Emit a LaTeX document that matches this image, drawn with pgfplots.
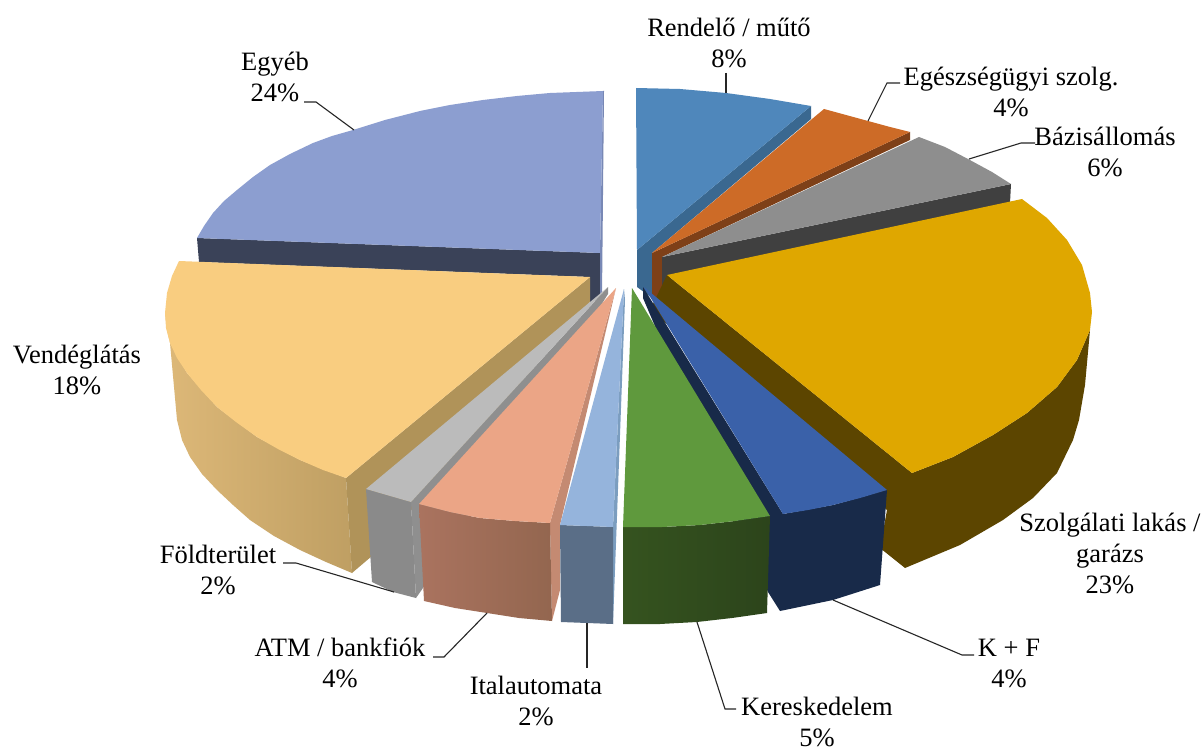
\documentclass[border=0pt]{standalone}
\usepackage{pgfplots}
\pgfplotsset{compat=1.18}
\usepackage{fontspec}
\setmainfont{Liberation Serif}
\definecolor{cBlueT}{HTML}{4F87BB}\definecolor{cBlueW}{HTML}{3A6890}
\definecolor{cOrT}{HTML}{CD6B27}\definecolor{cOrW}{HTML}{7E4018}
\definecolor{cGrT}{HTML}{8E8E8E}\definecolor{cGrW}{HTML}{404040}
\definecolor{cGoT}{HTML}{DFA700}\definecolor{cGoW}{HTML}{5C4500}
\definecolor{cDbT}{HTML}{3A61A9}\definecolor{cDbW}{HTML}{182A49}
\definecolor{cGnT}{HTML}{5F993D}\definecolor{cGnA}{HTML}{35531F}\definecolor{cGnB}{HTML}{2C441B}
\definecolor{cLbT}{HTML}{95B4DC}\definecolor{cLbW}{HTML}{5A6E87}\definecolor{cLbS}{HTML}{7B9DBF}
\definecolor{cSaT}{HTML}{EBA586}\definecolor{cSaA}{HTML}{AA735F}\definecolor{cSaB}{HTML}{93664F}\definecolor{cSaS}{HTML}{C48A72}
\definecolor{cLgT}{HTML}{BBBBBB}\definecolor{cLgW}{HTML}{8A8A8A}\definecolor{cLgS}{HTML}{8F8F8F}
\definecolor{cYeT}{HTML}{F9CD80}\definecolor{cYeA}{HTML}{DDB878}\definecolor{cYeB}{HTML}{BF9F63}\definecolor{cYeS}{HTML}{B09359}
\definecolor{cPeT}{HTML}{8C9ED0}\definecolor{cPeW}{HTML}{3A4258}\definecolor{cPeS}{HTML}{7888B5}
\tikzset{lab/.style={font=\fontsize{26.5}{31}\selectfont, align=center, inner sep=0pt}}
\pgfplotsset{lead/.style={black!85, line width=1.1pt}}
\begin{document}
\begin{tikzpicture}
\begin{axis}[
  scale only axis, width=1203pt, height=749pt,
  xmin=0, xmax=1203, ymin=0, ymax=749, y dir=reverse,
  hide axis, clip=false,
]
% page extent
\addplot[fill=white, draw=none] coordinates {(0,0)(1203,0)(1203,749)(0,749)} --cycle;
% Rendelo / muto
\addplot[fill=cBlueW, draw=none] coordinates {(637,250)(811,106)(811,119)(652,253)(652,298)(637,287)} --cycle;
\addplot[fill=cBlueT, draw=none] coordinates {(636,88)(680,89)(726,93)(770,99)(811,106)(637,250)} --cycle;
% Egeszsegugyi szolg.
\addplot[fill=cOrW, draw=none] coordinates {(652,253)(910,132)(910,140)(662,257)(662,300)(652,298)} --cycle;
\addplot[fill=cOrT, draw=none] coordinates {(824,109)(846,115)(868,121)(890,127)(910,132)(652,253)} --cycle;
% Bazisallomas
\addplot[fill=cGrW, draw=none] coordinates {(662,257)(1011,184)(1010,203)(667,278)(667,303)(662,300)} --cycle;
\addplot[fill=cGrT, draw=none] coordinates {(919,137)(945,147)(968,159)(992,172)(1011,184)(662,257)} --cycle;
% Egyeb
\addplot[fill=cPeW, draw=none] coordinates {(197,238)(600,253)(600,300)(590,302)(590,277)(199,262)} --cycle;
\addplot[fill=cPeS, draw=none] coordinates {(603,91)(604,91)(602,298)(600,298)(600,253)} --cycle;
\addplot[fill=cPeT, draw=none] coordinates {(603,91)(550,93)(517,96)(483,100)(450,105)(420,111)(385,120)(353,130)(332,136)(313,143)(290,154)(270,165)(253,177)(237,190)(224,201)(213,213)(204,226)(197,238)(600,253)} --cycle;
% Vendeglatas
\addplot[left color=cYeA, right color=cYeB, draw=none] coordinates {(165,313)(167,330)(170,343)(177,420)(182,440)(190,457)(202,474)(217,490)(233,505)(250,520)(274,536)(300,550)(326,562)(352,573)(346,478)(300,460)(257,437)(217,407)(187,373)(170,343)} --cycle;
\addplot[fill=cYeS, draw=none] coordinates {(590,277)(590,302)(372,556)(352,573)(346,478)} --cycle;
\addplot[fill=cYeT, draw=none] coordinates {(179,261)(172,276)(167,293)(165,313)(166,328)(170,343)(177,358)(187,373)(201,390)(217,407)(236,422)(257,437)(278,449)(300,460)(323,470)(346,478)(590,277)} --cycle;
% Foldterulet
\addplot[fill=cLgS, draw=none] coordinates {(608,287)(608,294)(423,588)(416,598)(411,502)} --cycle;
\addplot[fill=cLgW, draw=none] coordinates {(366,489)(411,502)(416,598)(393,592)(372,582)} --cycle;
\addplot[fill=cLgT, draw=none] coordinates {(608,287)(366,489)(411,502)} --cycle;
% ATM / bankfiok
\addplot[fill=cSaS, draw=none] coordinates {(616,288)(550,523)(552,621)(560,590)(560,525)} --cycle;
\addplot[left color=cSaA, right color=cSaB, draw=none] coordinates {(419,504)(450,512)(480,518)(515,521)(550,523)(552,621)(519,618)(487,613)(455,608)(424,601)} --cycle;
\addplot[fill=cSaT, draw=none] coordinates {(616,288)(419,504)(450,512)(480,518)(515,521)(550,523)} --cycle;
% Italautomata
\addplot[fill=cLbS, draw=none] coordinates {(624,289)(625,300)(613,624)(613,527)} --cycle;
\addplot[fill=cLbW, draw=none] coordinates {(560,525)(587,526)(613,527)(613,624)(587,623)(561,622)} --cycle;
\addplot[fill=cLbT, draw=none] coordinates {(624,289)(560,525)(587,526)(613,527)} --cycle;
% Szolgalati lakas / garazs
\addplot[fill=cGoW, draw=none] coordinates {(667,275)(912,473)(953,457)(993,435)(1027,413)(1057,387)(1077,360)(1090,330)(1085,385)(1079,420)(1073,440)(1057,473)(1033,498)(1003,520)(960,545)(905,568)(880,548)(887,510)(650,310)} --cycle;
\addplot[fill=cGoT, draw=none] coordinates {(1022,199)(1047,218)(1067,240)(1082,265)(1090,293)(1092,312)(1090,330)(1077,360)(1057,387)(1027,413)(993,435)(953,457)(912,473)(667,275)} --cycle;
% K + F
\addplot[fill=cDbW, draw=none] coordinates {(643,287)(643,298)(768,592)(780,611)(833,600)(880,585)(887,490)(833,505)(783,514)} --cycle;
\addplot[fill=cDbT, draw=none] coordinates {(644,287)(887,490)(860,498)(833,505)(808,510)(783,514)} --cycle;
% Kereskedelem
\addplot[left color=cGnA, right color=cGnB, draw=none] coordinates {(623,527)(662,527)(700,525)(735,521)(770,516)(767,613)(732,618)(697,622)(660,624)(623,624)} --cycle;
\addplot[fill=cGnT, draw=none] coordinates {(632,288)(770,516)(735,521)(700,525)(662,527)(623,527)} --cycle;
% leader lines
\addplot[lead] coordinates {(726,73)(726,93)};
\addplot[lead] coordinates {(900,83)(887,83)(868,121)};
\addplot[lead] coordinates {(1035,143)(1021,143)(969,159)};
\addplot[lead] coordinates {(833,600)(962,655)(974,655)};
\addplot[lead] coordinates {(697,622)(725,709)(736,709)};
\addplot[lead] coordinates {(587,623)(587,668)};
\addplot[lead] coordinates {(487,613)(444,657)(433,657)};
\addplot[lead] coordinates {(283,563)(296,563)(394,592)};
\addplot[lead] coordinates {(304,102)(316,102)(354,130)};
% labels
\node[lab] at (axis cs:729,43) {Rendelő / műtő\\8\%};
\node[lab] at (axis cs:1011,92) {Egészségügyi szolg.\\4\%};
\node[lab] at (axis cs:1105,152) {Bázisállomás\\6\%};
\node[lab] at (axis cs:1110,553) {Szolgálati lakás /\\garázs\\23\%};
\node[lab] at (axis cs:1009,663) {K + F\\4\%};
\node[lab] at (axis cs:817,722) {Kereskedelem\\5\%};
\node[lab] at (axis cs:536,701) {Italautomata\\2\%};
\node[lab] at (axis cs:340,663) {ATM / bankfiók\\4\%};
\node[lab] at (axis cs:218,570) {Földterület\\2\%};
\node[lab] at (axis cs:77,370) {Vendéglátás\\18\%};
\node[lab] at (axis cs:275,77) {Egyéb\\24\%};
\end{axis}
\end{tikzpicture}
\end{document}
